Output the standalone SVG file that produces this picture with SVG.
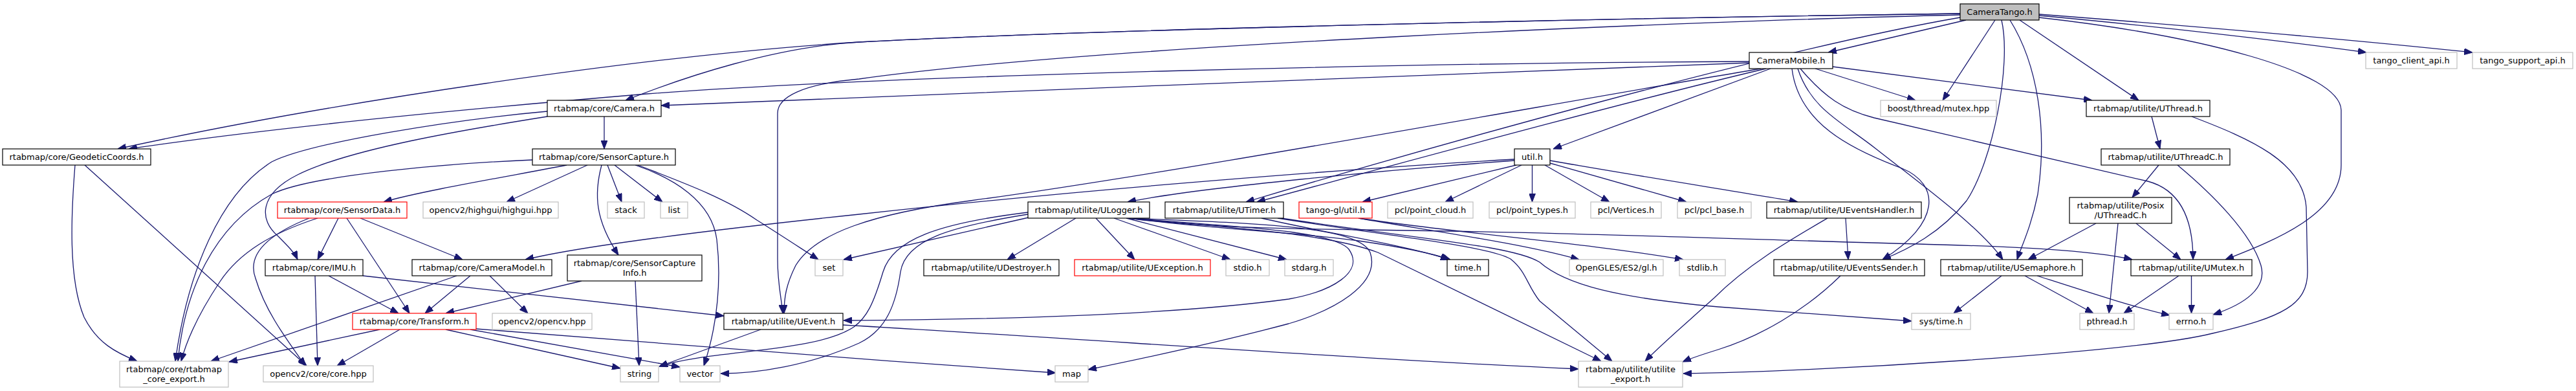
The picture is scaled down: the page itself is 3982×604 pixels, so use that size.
<svg xmlns="http://www.w3.org/2000/svg" width="3982" height="604" viewBox="0 0 3982 604">
<defs>
<marker id="a" viewBox="0 0 13 10" refX="13" refY="5" markerWidth="13" markerHeight="10" markerUnits="userSpaceOnUse" orient="auto">
<path d="M0,0 L13,5 L0,10 z" fill="#191970" stroke="#191970" stroke-width="1"/>
</marker>
<style>
.n rect{fill:#ffffff;stroke:#000000;stroke-width:1.2}
.g rect{stroke:#bfbfbf}
.r rect{stroke:#ff0000}
.root rect{fill:#bfbfbf}
text{font-family:"DejaVu Sans","Liberation Sans",sans-serif;font-size:13px;text-anchor:middle;fill:#000000}
.e path{fill:none;stroke:#191970;stroke-width:1.3;marker-end:url(#a)}
</style>
</defs>
<rect x="0" y="0" width="3982" height="604" fill="#ffffff"/>
<g class="e" id="edges">
<path d="M3039,31 L2826,81"/>
<path d="M3084,31 L3003,155"/>
<path d="M3122,31 L3306,155"/>
<path d="M3152,24 C3350,42 3550,66 3658,81"/>
<path d="M3152,22 C3450,45 3700,68 3822,81"/>
<path d="M3152,27 C3400,55 3617,110 3619,170 L3619,255 C3619,330 3520,370 3440,401"/>
<path d="M3030,21 C2500,28 1700,45 1328,65 C1000,85 500,160 182,230"/>
<path d="M3030,21 C2500,28 1700,45 1328,65 C1200,72 1060,118 967,155"/>
<path d="M3030,23 C2600,33 1700,70 1328,122 C1240,130 1202,150 1202,175 L1202,400 C1202,440 1208,460 1210,484"/>
<path d="M3030,27 C2750,75 2200,230 1926,312"/>
<path d="M3094,31 C3110,100 3080,250 3040,310 C3000,360 2950,385 2910,401"/>
<path d="M3107,31 C3150,100 3165,200 3150,300 C3140,350 3125,380 3118,401"/>
<path d="M2704,97 C2300,110 1500,145 1022,163"/>
<path d="M2704,95 C2200,97 1400,115 1000,145 C700,170 400,200 199,230"/>
<path d="M2722,106 C2400,160 1800,270 1500,310 C1350,330 1260,360 1230,410 C1215,440 1212,460 1212,484"/>
<path d="M2730,106 C2500,160 2100,270 1943,312"/>
<path d="M2737,106 L2401,230"/>
<path d="M2806,106 L2961,155"/>
<path d="M2833,103 L3234,155"/>
<path d="M2770,106 C2780,190 2860,230 2940,260 C3000,285 3000,345 2910,401"/>
<path d="M2779,106 C2800,170 2850,190 2900,230 C2970,285 3060,350 3096,401"/>
<path d="M2783,106 C2820,150 2850,170 2897,182 L3320,280 C3365,292 3390,330 3390,401"/>
<path d="M2341,246 C2100,260 1700,290 1328,331 C1100,355 900,380 812,401"/>
<path d="M2341,248 C2150,262 1850,290 1743,312"/>
<path d="M2344,255 L2106,312"/>
<path d="M2352,255 L2234,312"/>
<path d="M2368.5,255 L2368.5,312"/>
<path d="M2388,255 L2488,312"/>
<path d="M2396,252 L2607,312"/>
<path d="M2396,248 C2550,275 2700,298 2779,312"/>
<path d="M3326,180 L3339,230"/>
<path d="M3388,180 C3480,215 3560,250 3565,320 L3567,420 C3567,470 3530,490 3420,515 C3300,545 2800,575 2602,577"/>
<path d="M3337,255 L3296,305"/>
<path d="M3366,255 C3420,300 3480,360 3495,410 C3505,445 3470,470 3421,486"/>
<path d="M3240,345 L3135,401"/>
<path d="M3274,345 L3260,484"/>
<path d="M3302,345 L3371,401"/>
<path d="M3387.5,426 L3387.5,484"/>
<path d="M3368,426 L3283,484"/>
<path d="M3094,426 L3020,484"/>
<path d="M3130,426 L3236,484"/>
<path d="M3149,426 C3230,452 3300,475 3354,487"/>
<path d="M2853,337 L2857,401"/>
<path d="M2825,337 C2760,375 2700,410 2650,460 C2600,505 2565,535 2543,558"/>
<path d="M2845,426 C2790,480 2720,520 2656,540 C2630,548 2615,553 2601,559"/>
<path d="M1663,337 L1557,401"/>
<path d="M1694,337 L1754,401"/>
<path d="M1722,337 L1902,401"/>
<path d="M1741,337 L1989,401"/>
<path d="M1745,337 C1850,352 2000,358 2100,372 C2170,382 2215,392 2242,401"/>
<path d="M1745,337 C1850,350 1950,353 2100,355 C2400,358 2700,370 3000,378 C3150,382 3250,390 3296,401"/>
<path d="M1745,337 C1900,352 2050,360 2130,390 L2475,558"/>
<path d="M1745,337 C1900,350 2060,355 2085,385 C2110,420 2060,450 1992,462 C1800,488 1500,494 1304,495"/>
<path d="M1745,337 C1950,345 2100,350 2118,390 C2135,440 2060,480 1992,500 C1880,530 1760,555 1682,571"/>
<path d="M1590,336 L1304,401"/>
<path d="M1589,328 C1450,345 1380,370 1365,420 C1350,470 1340,490 1320,505 C1260,545 1100,540 1019,566"/>
<path d="M1589,331 C1470,350 1400,370 1392,420 C1385,470 1370,510 1328,530 C1250,565 1170,577 1114,577"/>
<path d="M1950,337 C2050,360 2180,380 2240,401"/>
<path d="M1975,337 C2150,365 2300,380 2335,400 C2360,420 2360,440 2380,465 L2492,558"/>
<path d="M1980,337 C2200,370 2340,380 2380,405 C2420,440 2500,460 2656,474 L2955,496"/>
<path d="M2100,337 C2200,355 2350,375 2441,401"/>
<path d="M2100,337 C2250,360 2450,375 2602,401"/>
<path d="M587,509 L354,559"/>
<path d="M618,509 L521,565"/>
<path d="M689,509 L959,569"/>
<path d="M727,509 L1051,567"/>
<path d="M736,508 C1000,530 1328,555 1632,576"/>
<path d="M487,426 L491,565"/>
<path d="M508,426 L616,484"/>
<path d="M561,426 L1119,488"/>
<path d="M706,426 L326,558"/>
<path d="M727,426 L657,484"/>
<path d="M757,426 L816,484"/>
<path d="M899,434 L689,484"/>
<path d="M982,434 L988,565"/>
<path d="M1176,509 L1019,566"/>
<path d="M1303,502 C1700,525 2100,555 2440,570"/>
<path d="M523,337 L491,401"/>
<path d="M536,337 L633,484"/>
<path d="M557,337 L715,401"/>
<path d="M491,337 C420,360 370,390 340,435 C310,480 290,520 280,558"/>
<path d="M478,337 C420,360 380,390 395,430 C410,480 440,520 472,565"/>
<path d="M934,180 L934,230"/>
<path d="M846,172 C700,185 480,220 420,250 C340,300 290,420 271,558"/>
<path d="M846,180 C720,200 540,230 460,270 C400,300 400,340 430,365 C445,380 455,390 460,401"/>
<path d="M876,255 C800,270 650,295 593,312"/>
<path d="M823,247 C700,252 480,270 420,300 C330,350 285,450 275,558"/>
<path d="M908,255 L783,312"/>
<path d="M939,255 L961,312"/>
<path d="M950,255 L1024,312"/>
<path d="M930,255 C918,300 920,340 956,394"/>
<path d="M982,255 C1040,275 1100,310 1108,370 C1115,430 1110,500 1088,565"/>
<path d="M986,255 C1050,280 1120,305 1170,340 C1210,365 1240,385 1265,401"/>
<path d="M116,255 C110,330 105,430 130,490 C150,530 180,545 212,558"/>
<path d="M131,255 L474,565"/>
</g>
<g id="CT" class="n root"><rect x="3030" y="6" width="122" height="25"/><text x="3091" y="23">CameraTango.h</text></g>
<g id="CM" class="n"><rect x="2704" y="81" width="129" height="25"/><text x="2768.5" y="98">CameraMobile.h</text></g>
<g id="TCA" class="n g"><rect x="3657" y="81" width="141" height="25"/><text x="3727.5" y="98">tango_client_api.h</text></g>
<g id="TSA" class="n g"><rect x="3822" y="81" width="155" height="25"/><text x="3899.5" y="98">tango_support_api.h</text></g>
<g id="CAM" class="n"><rect x="846" y="155" width="176" height="25"/><text x="934" y="172">rtabmap/core/Camera.h</text></g>
<g id="BM" class="n g"><rect x="2907" y="155" width="179" height="25"/><text x="2996.5" y="172">boost/thread/mutex.hpp</text></g>
<g id="UTH" class="n"><rect x="3225" y="155" width="191" height="25"/><text x="3320.5" y="172">rtabmap/utilite/UThread.h</text></g>
<g id="GC" class="n"><rect x="4" y="230" width="229" height="25"/><text x="118.5" y="247">rtabmap/core/GeodeticCoords.h</text></g>
<g id="SC" class="n"><rect x="823" y="230" width="221" height="25"/><text x="933.5" y="247">rtabmap/core/SensorCapture.h</text></g>
<g id="UT" class="n"><rect x="2341" y="230" width="55" height="25"/><text x="2368.5" y="247">util.h</text></g>
<g id="UTC" class="n"><rect x="3248" y="230" width="199" height="25"/><text x="3347.5" y="247">rtabmap/utilite/UThreadC.h</text></g>
<g id="PUTC" class="n"><rect x="3199" y="305" width="158" height="40"/><text x="3278" y="321.5">rtabmap/utilite/Posix</text><text x="3278" y="336.5">/UThreadC.h</text></g>
<g id="SD" class="n r"><rect x="429" y="312" width="200" height="25"/><text x="529" y="329">rtabmap/core/SensorData.h</text></g>
<g id="HG" class="n g"><rect x="654" y="312" width="209" height="25"/><text x="758.5" y="329">opencv2/highgui/highgui.hpp</text></g>
<g id="STK" class="n g"><rect x="939" y="312" width="57" height="25"/><text x="967.5" y="329">stack</text></g>
<g id="LST" class="n g"><rect x="1021" y="312" width="42" height="25"/><text x="1042" y="329">list</text></g>
<g id="ULG" class="n"><rect x="1589" y="312" width="188" height="25"/><text x="1683" y="329">rtabmap/utilite/ULogger.h</text></g>
<g id="UTM" class="n"><rect x="1801" y="312" width="183" height="25"/><text x="1892.5" y="329">rtabmap/utilite/UTimer.h</text></g>
<g id="TGL" class="n r"><rect x="2008" y="312" width="113" height="25"/><text x="2064.5" y="329">tango-gl/util.h</text></g>
<g id="PCC" class="n g"><rect x="2145" y="312" width="132" height="25"/><text x="2211" y="329">pcl/point_cloud.h</text></g>
<g id="PCT" class="n g"><rect x="2302" y="312" width="133" height="25"/><text x="2368.5" y="329">pcl/point_types.h</text></g>
<g id="PCV" class="n g"><rect x="2459" y="312" width="109" height="25"/><text x="2513.5" y="329">pcl/Vertices.h</text></g>
<g id="PCB" class="n g"><rect x="2593" y="312" width="114" height="25"/><text x="2650" y="329">pcl/pcl_base.h</text></g>
<g id="UEH" class="n"><rect x="2731" y="312" width="239" height="25"/><text x="2850.5" y="329">rtabmap/utilite/UEventsHandler.h</text></g>
<g id="IMU" class="n"><rect x="410" y="401" width="151" height="25"/><text x="485.5" y="418">rtabmap/core/IMU.h</text></g>
<g id="CMD" class="n"><rect x="637" y="401" width="216" height="25"/><text x="745" y="418">rtabmap/core/CameraModel.h</text></g>
<g id="SCI" class="n"><rect x="877" y="394" width="208" height="40"/><text x="981" y="410.5">rtabmap/core/SensorCapture</text><text x="981" y="425.5">Info.h</text></g>
<g id="SET" class="n g"><rect x="1260" y="401" width="43" height="25"/><text x="1281.5" y="418">set</text></g>
<g id="UDS" class="n"><rect x="1428" y="401" width="209" height="25"/><text x="1532.5" y="418">rtabmap/utilite/UDestroyer.h</text></g>
<g id="UEX" class="n r"><rect x="1661" y="401" width="210" height="25"/><text x="1766" y="418">rtabmap/utilite/UException.h</text></g>
<g id="STDIO" class="n g"><rect x="1895" y="401" width="67" height="25"/><text x="1928.5" y="418">stdio.h</text></g>
<g id="STDARG" class="n g"><rect x="1986" y="401" width="75" height="25"/><text x="2023.5" y="418">stdarg.h</text></g>
<g id="TIME" class="n"><rect x="2237" y="401" width="64" height="25"/><text x="2269" y="418">time.h</text></g>
<g id="GL" class="n g"><rect x="2426" y="401" width="145" height="25"/><text x="2498.5" y="418">OpenGLES/ES2/gl.h</text></g>
<g id="STDLIB" class="n g"><rect x="2596" y="401" width="71" height="25"/><text x="2631.5" y="418">stdlib.h</text></g>
<g id="UES" class="n"><rect x="2742" y="401" width="233" height="25"/><text x="2858.5" y="418">rtabmap/utilite/UEventsSender.h</text></g>
<g id="USEM" class="n"><rect x="3000" y="401" width="219" height="25"/><text x="3109.5" y="418">rtabmap/utilite/USemaphore.h</text></g>
<g id="UMX" class="n"><rect x="3294" y="401" width="187" height="25"/><text x="3387.5" y="418">rtabmap/utilite/UMutex.h</text></g>
<g id="TF" class="n r"><rect x="545" y="484" width="191" height="25"/><text x="640.5" y="501">rtabmap/core/Transform.h</text></g>
<g id="OCV" class="n g"><rect x="761" y="484" width="154" height="25"/><text x="838" y="501">opencv2/opencv.hpp</text></g>
<g id="UEV" class="n"><rect x="1119" y="484" width="184" height="25"/><text x="1211" y="501">rtabmap/utilite/UEvent.h</text></g>
<g id="SYST" class="n g"><rect x="2955" y="484" width="91" height="25"/><text x="3000.5" y="501">sys/time.h</text></g>
<g id="PTH" class="n g"><rect x="3215" y="484" width="84" height="25"/><text x="3257" y="501">pthread.h</text></g>
<g id="ERR" class="n g"><rect x="3353" y="484" width="68" height="25"/><text x="3387" y="501">errno.h</text></g>
<g id="EXP" class="n g"><rect x="185" y="558" width="168" height="40"/><text x="269" y="574.5">rtabmap/core/rtabmap</text><text x="269" y="589.5">_core_export.h</text></g>
<g id="CORE" class="n g"><rect x="407" y="565" width="170" height="25"/><text x="492" y="582">opencv2/core/core.hpp</text></g>
<g id="STR" class="n g"><rect x="959" y="565" width="59" height="25"/><text x="988.5" y="582">string</text></g>
<g id="VEC" class="n g"><rect x="1051" y="565" width="62" height="25"/><text x="1082" y="582">vector</text></g>
<g id="MAP" class="n g"><rect x="1631" y="565" width="51" height="25"/><text x="1656.5" y="582">map</text></g>
<g id="UEXP" class="n g"><rect x="2440" y="558" width="161" height="40"/><text x="2520.5" y="574.5">rtabmap/utilite/utilite</text><text x="2520.5" y="589.5">_export.h</text></g>
</svg>
